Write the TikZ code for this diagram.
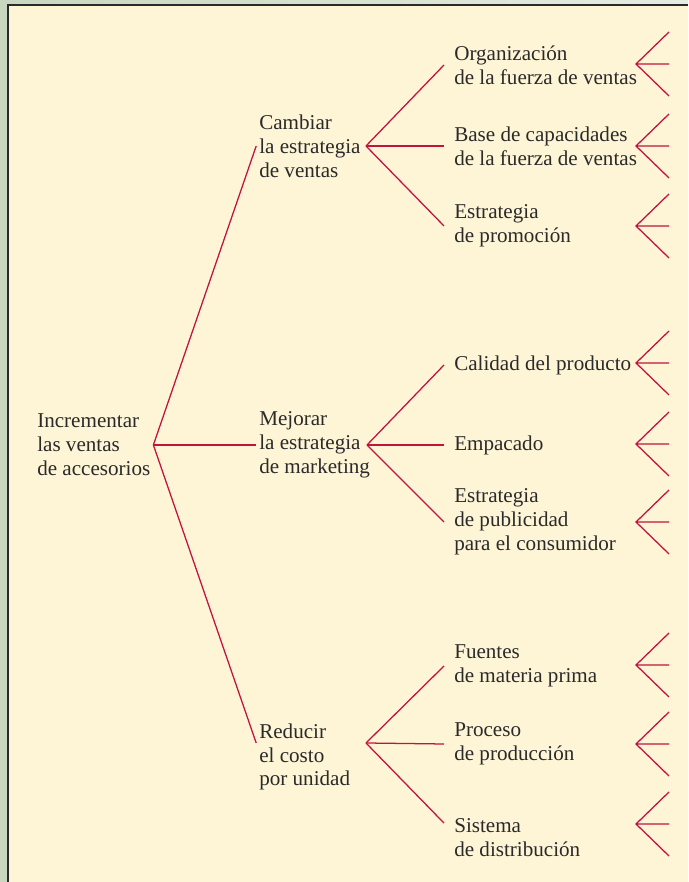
\documentclass[tikz,border=0pt]{standalone}
\usepackage{fontspec}
\setmainfont{Liberation Serif}
\usetikzlibrary{positioning}
\definecolor{treeRed}{HTML}{C2123E}
\definecolor{treeCream}{HTML}{FEF5D6}
\definecolor{treeSage}{HTML}{C8D7BF}
\definecolor{treeMist}{HTML}{E6ECE2}
\definecolor{treeInk}{HTML}{2A2A2A}

\begin{document}
\begin{tikzpicture}[
  branch/.style={draw=treeRed, line width=0.9pt},
  goal/.style={anchor=west, align=left, inner xsep=2pt, inner ysep=0pt, text=treeInk, font=\fontsize{15}{17}\selectfont},
  leaf/.style={goal, inner xsep=0.25cm}
]
  \useasboundingbox (0,0) rectangle (17.2,22.05);
  \shade[left color=treeSage, right color=treeMist] (0,0) rectangle (17.2,22.05);
  \fill[treeCream] (0.2,0) rectangle (17.2,21.925);
  \draw[treeInk, line width=1.4pt] (0.2,0) -- (0.2,21.925) -- (17.2,21.925);

  % root
  \node[goal] (root) at (0.855,10.925) {Incrementar\\las ventas\\de accesorios};

  % first level
  \node[goal] (sales) at (6.405,18.4) {Cambiar\\la estrategia\\de ventas};
  \node[goal] (mkt) at (6.405,10.925) {Mejorar\\la estrategia\\de marketing};
  \node[goal] (cost) at (6.405,3.125) {Reducir\\el costo\\por unidad};
  \coordinate (salesJ) at (9.15,18.4);
  \coordinate (mktJ) at (9.175,10.925);
  \coordinate (costJ) at (9.15,3.475);

  \draw[branch] (root.east) -- (sales.west);
  \draw[branch] (root.east) -- (mkt.west);
  \draw[branch] (root.east) -- ([yshift=0.35cm]cost.west);

  % second level
  \node[leaf] (org) at (11.1,20.425) {Organización\\de la fuerza de ventas};
  \node[leaf] (base) at (11.1,18.4) {Base de capacidades\\de la fuerza de ventas};
  \node[leaf] (promo) at (11.1,16.4) {Estrategia\\de promoción};
  \node[leaf] (qual) at (11.1,12.925) {Calidad del producto};
  \node[leaf] (pack) at (11.1,10.925) {Empacado};
  \node[leaf] (ads) at (11.1,9.0) {Estrategia\\de publicidad\\para el consumidor};
  \node[leaf] (raw) at (11.1,5.4) {Fuentes\\de materia prima};
  \node[leaf] (proc) at (11.1,3.45) {Proceso\\de producción};
  \node[leaf] (dist) at (11.1,1.1125) {Sistema\\de distribución};

  \draw[branch] (salesJ) -- (org.west);
  \draw[branch] (salesJ) -- (base.west);
  \draw[branch] (salesJ) -- (promo.west);
  \draw[branch] (mktJ) -- (qual.west);
  \draw[branch] (mktJ) -- (pack.west);
  \draw[branch] (mktJ) -- (ads.west);
  \draw[branch] (costJ) -- (raw.west);
  \draw[branch] (costJ) -- (proc.west);
  \draw[branch] (costJ) -- ([yshift=0.36cm]dist.west);

  % open ends
  \foreach \y in {20.45,18.4,16.4,12.975,10.95,9.0,5.425,3.45,1.45} {
    \draw[branch] (16.725,\y+0.8) -- (15.9,\y) -- (16.725,\y-0.8) (15.9,\y) -- (16.725,\y);
  }
\end{tikzpicture}
\end{document}
